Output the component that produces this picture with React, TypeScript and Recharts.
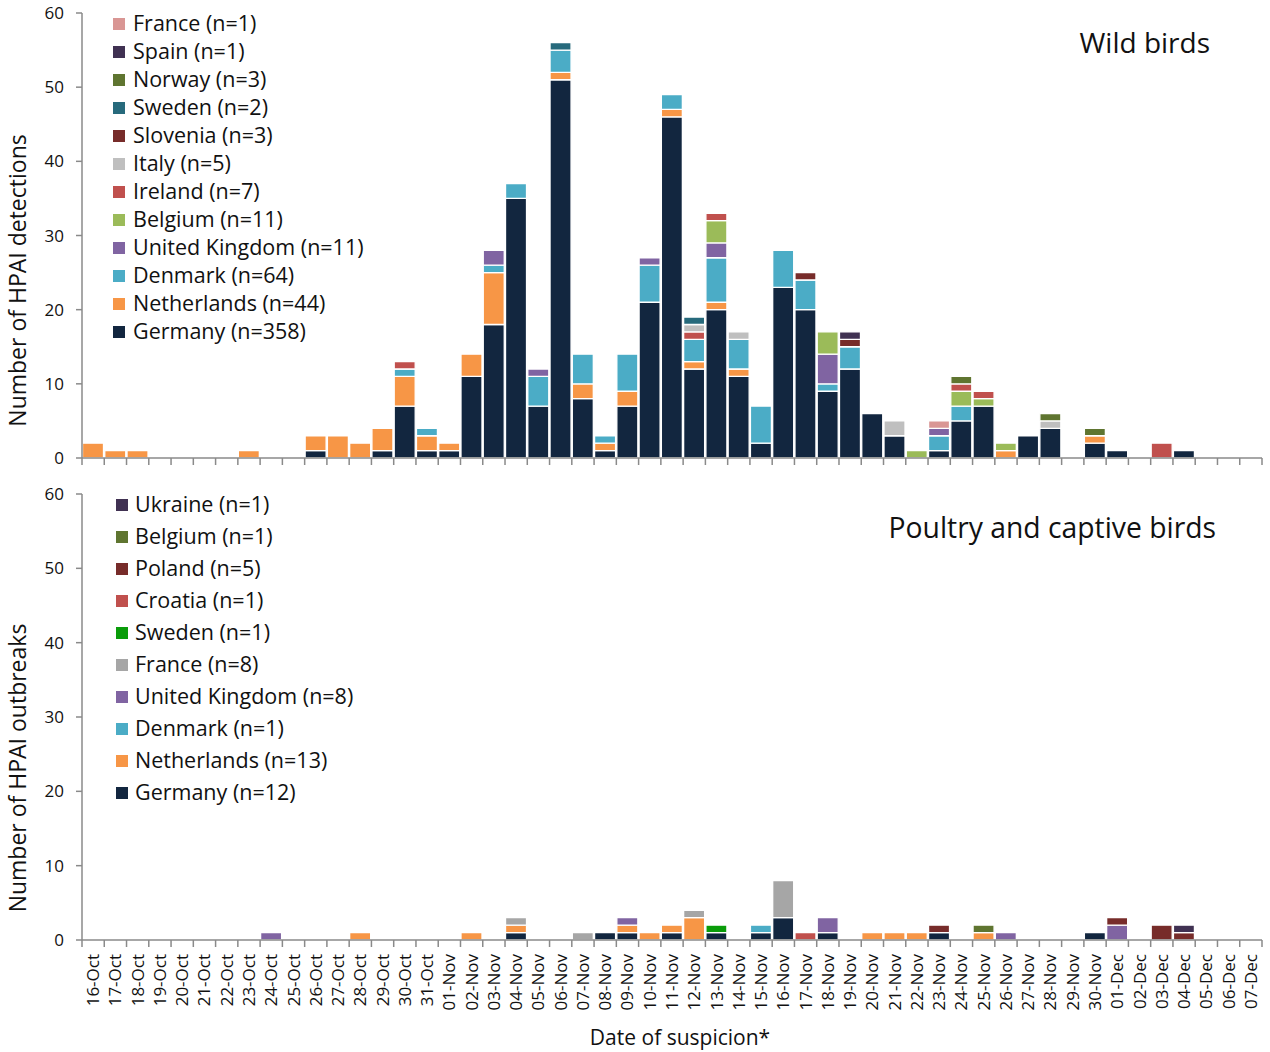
import React from 'react';
import { BarChart, Bar, XAxis, YAxis } from 'recharts';

// ---------- categories ----------
const DATES = [
  '16-Oct', '17-Oct', '18-Oct', '19-Oct', '20-Oct', '21-Oct', '22-Oct', '23-Oct', '24-Oct', '25-Oct',
  '26-Oct', '27-Oct', '28-Oct', '29-Oct', '30-Oct', '31-Oct', '01-Nov', '02-Nov', '03-Nov', '04-Nov',
  '05-Nov', '06-Nov', '07-Nov', '08-Nov', '09-Nov', '10-Nov', '11-Nov', '12-Nov', '13-Nov', '14-Nov',
  '15-Nov', '16-Nov', '17-Nov', '18-Nov', '19-Nov', '20-Nov', '21-Nov', '22-Nov', '23-Nov', '24-Nov',
  '25-Nov', '26-Nov', '27-Nov', '28-Nov', '29-Nov', '30-Nov', '01-Dec', '02-Dec', '03-Dec', '04-Dec',
  '05-Dec', '06-Dec', '07-Dec',
];
const Y_TICKS = [0, 10, 20, 30, 40, 50, 60];

// ---------- wild birds (detections per day), rows of 10 days ----------
const WILD_GERMANY = [
  0, 0, 0, 0, 0, 0, 0, 0, 0, 0,
  1, 0, 0, 1, 7, 1, 1, 11, 18, 35,
  7, 51, 8, 1, 7, 21, 46, 12, 20, 11,
  2, 23, 20, 9, 12, 6, 3, 0, 1, 5,
  7, 0, 3, 4, 0, 2, 1, 0, 0, 1,
  0, 0, 0,
];
const WILD_NETHERLANDS = [
  2, 1, 1, 0, 0, 0, 0, 1, 0, 0,
  2, 3, 2, 3, 4, 2, 1, 3, 7, 0,
  0, 1, 2, 1, 2, 0, 1, 1, 1, 1,
  0, 0, 0, 0, 0, 0, 0, 0, 0, 0,
  0, 1, 0, 0, 0, 1, 0, 0, 0, 0,
  0, 0, 0,
];
const WILD_DENMARK = [
  0, 0, 0, 0, 0, 0, 0, 0, 0, 0,
  0, 0, 0, 0, 1, 1, 0, 0, 1, 2,
  4, 3, 4, 1, 5, 5, 2, 3, 6, 4,
  5, 5, 4, 1, 3, 0, 0, 0, 2, 2,
  0, 0, 0, 0, 0, 0, 0, 0, 0, 0,
  0, 0, 0,
];
const WILD_UK = [
  0, 0, 0, 0, 0, 0, 0, 0, 0, 0,
  0, 0, 0, 0, 0, 0, 0, 0, 2, 0,
  1, 0, 0, 0, 0, 1, 0, 0, 2, 0,
  0, 0, 0, 4, 0, 0, 0, 0, 1, 0,
  0, 0, 0, 0, 0, 0, 0, 0, 0, 0,
  0, 0, 0,
];
const WILD_BELGIUM = [
  0, 0, 0, 0, 0, 0, 0, 0, 0, 0,
  0, 0, 0, 0, 0, 0, 0, 0, 0, 0,
  0, 0, 0, 0, 0, 0, 0, 0, 3, 0,
  0, 0, 0, 3, 0, 0, 0, 1, 0, 2,
  1, 1, 0, 0, 0, 0, 0, 0, 0, 0,
  0, 0, 0,
];
const WILD_IRELAND = [
  0, 0, 0, 0, 0, 0, 0, 0, 0, 0,
  0, 0, 0, 0, 1, 0, 0, 0, 0, 0,
  0, 0, 0, 0, 0, 0, 0, 1, 1, 0,
  0, 0, 0, 0, 0, 0, 0, 0, 0, 1,
  1, 0, 0, 0, 0, 0, 0, 0, 2, 0,
  0, 0, 0,
];
const WILD_ITALY = [
  0, 0, 0, 0, 0, 0, 0, 0, 0, 0,
  0, 0, 0, 0, 0, 0, 0, 0, 0, 0,
  0, 0, 0, 0, 0, 0, 0, 1, 0, 1,
  0, 0, 0, 0, 0, 0, 2, 0, 0, 0,
  0, 0, 0, 1, 0, 0, 0, 0, 0, 0,
  0, 0, 0,
];
const WILD_SLOVENIA = [
  0, 0, 0, 0, 0, 0, 0, 0, 0, 0,
  0, 0, 0, 0, 0, 0, 0, 0, 0, 0,
  0, 0, 0, 0, 0, 0, 0, 0, 0, 0,
  0, 0, 1, 0, 1, 0, 0, 0, 0, 0,
  0, 0, 0, 0, 0, 0, 0, 0, 0, 0,
  0, 0, 0,
];
const WILD_SWEDEN = [
  0, 0, 0, 0, 0, 0, 0, 0, 0, 0,
  0, 0, 0, 0, 0, 0, 0, 0, 0, 0,
  0, 1, 0, 0, 0, 0, 0, 1, 0, 0,
  0, 0, 0, 0, 0, 0, 0, 0, 0, 0,
  0, 0, 0, 0, 0, 0, 0, 0, 0, 0,
  0, 0, 0,
];
const WILD_NORWAY = [
  0, 0, 0, 0, 0, 0, 0, 0, 0, 0,
  0, 0, 0, 0, 0, 0, 0, 0, 0, 0,
  0, 0, 0, 0, 0, 0, 0, 0, 0, 0,
  0, 0, 0, 0, 0, 0, 0, 0, 0, 1,
  0, 0, 0, 1, 0, 1, 0, 0, 0, 0,
  0, 0, 0,
];
const WILD_SPAIN = [
  0, 0, 0, 0, 0, 0, 0, 0, 0, 0,
  0, 0, 0, 0, 0, 0, 0, 0, 0, 0,
  0, 0, 0, 0, 0, 0, 0, 0, 0, 0,
  0, 0, 0, 0, 1, 0, 0, 0, 0, 0,
  0, 0, 0, 0, 0, 0, 0, 0, 0, 0,
  0, 0, 0,
];
const WILD_FRANCE = [
  0, 0, 0, 0, 0, 0, 0, 0, 0, 0,
  0, 0, 0, 0, 0, 0, 0, 0, 0, 0,
  0, 0, 0, 0, 0, 0, 0, 0, 0, 0,
  0, 0, 0, 0, 0, 0, 0, 0, 1, 0,
  0, 0, 0, 0, 0, 0, 0, 0, 0, 0,
  0, 0, 0,
];

// ---------- poultry and captive birds (outbreaks per day) ----------
const POUL_GERMANY = [
  0, 0, 0, 0, 0, 0, 0, 0, 0, 0,
  0, 0, 0, 0, 0, 0, 0, 0, 0, 1,
  0, 0, 0, 1, 1, 0, 1, 0, 1, 0,
  1, 3, 0, 1, 0, 0, 0, 0, 1, 0,
  0, 0, 0, 0, 0, 1, 0, 0, 0, 0,
  0, 0, 0,
];
const POUL_NETHERLANDS = [
  0, 0, 0, 0, 0, 0, 0, 0, 0, 0,
  0, 0, 1, 0, 0, 0, 0, 1, 0, 1,
  0, 0, 0, 0, 1, 1, 1, 3, 0, 0,
  0, 0, 0, 0, 0, 1, 1, 1, 0, 0,
  1, 0, 0, 0, 0, 0, 0, 0, 0, 0,
  0, 0, 0,
];
const POUL_DENMARK = [
  0, 0, 0, 0, 0, 0, 0, 0, 0, 0,
  0, 0, 0, 0, 0, 0, 0, 0, 0, 0,
  0, 0, 0, 0, 0, 0, 0, 0, 0, 0,
  1, 0, 0, 0, 0, 0, 0, 0, 0, 0,
  0, 0, 0, 0, 0, 0, 0, 0, 0, 0,
  0, 0, 0,
];
const POUL_UK = [
  0, 0, 0, 0, 0, 0, 0, 0, 1, 0,
  0, 0, 0, 0, 0, 0, 0, 0, 0, 0,
  0, 0, 0, 0, 1, 0, 0, 0, 0, 0,
  0, 0, 0, 2, 0, 0, 0, 0, 0, 0,
  0, 1, 0, 0, 0, 0, 2, 0, 0, 0,
  0, 0, 0,
];
const POUL_FRANCE = [
  0, 0, 0, 0, 0, 0, 0, 0, 0, 0,
  0, 0, 0, 0, 0, 0, 0, 0, 0, 1,
  0, 0, 1, 0, 0, 0, 0, 1, 0, 0,
  0, 5, 0, 0, 0, 0, 0, 0, 0, 0,
  0, 0, 0, 0, 0, 0, 0, 0, 0, 0,
  0, 0, 0,
];
const POUL_SWEDEN = [
  0, 0, 0, 0, 0, 0, 0, 0, 0, 0,
  0, 0, 0, 0, 0, 0, 0, 0, 0, 0,
  0, 0, 0, 0, 0, 0, 0, 0, 1, 0,
  0, 0, 0, 0, 0, 0, 0, 0, 0, 0,
  0, 0, 0, 0, 0, 0, 0, 0, 0, 0,
  0, 0, 0,
];
const POUL_CROATIA = [
  0, 0, 0, 0, 0, 0, 0, 0, 0, 0,
  0, 0, 0, 0, 0, 0, 0, 0, 0, 0,
  0, 0, 0, 0, 0, 0, 0, 0, 0, 0,
  0, 0, 1, 0, 0, 0, 0, 0, 0, 0,
  0, 0, 0, 0, 0, 0, 0, 0, 0, 0,
  0, 0, 0,
];
const POUL_POLAND = [
  0, 0, 0, 0, 0, 0, 0, 0, 0, 0,
  0, 0, 0, 0, 0, 0, 0, 0, 0, 0,
  0, 0, 0, 0, 0, 0, 0, 0, 0, 0,
  0, 0, 0, 0, 0, 0, 0, 0, 1, 0,
  0, 0, 0, 0, 0, 0, 1, 0, 2, 1,
  0, 0, 0,
];
const POUL_BELGIUM = [
  0, 0, 0, 0, 0, 0, 0, 0, 0, 0,
  0, 0, 0, 0, 0, 0, 0, 0, 0, 0,
  0, 0, 0, 0, 0, 0, 0, 0, 0, 0,
  0, 0, 0, 0, 0, 0, 0, 0, 0, 0,
  1, 0, 0, 0, 0, 0, 0, 0, 0, 0,
  0, 0, 0,
];
const POUL_UKRAINE = [
  0, 0, 0, 0, 0, 0, 0, 0, 0, 0,
  0, 0, 0, 0, 0, 0, 0, 0, 0, 0,
  0, 0, 0, 0, 0, 0, 0, 0, 0, 0,
  0, 0, 0, 0, 0, 0, 0, 0, 0, 0,
  0, 0, 0, 0, 0, 0, 0, 0, 0, 1,
  0, 0, 0,
];

// ---------- series definitions (bottom of stack first) ----------
type Series = { key: string; label: string; values: number[] };

const WILD_SERIES: Series[] = [
  { key: 'germany', label: 'Germany (n=358)', values: WILD_GERMANY },
  { key: 'netherlands', label: 'Netherlands (n=44)', values: WILD_NETHERLANDS },
  { key: 'denmark', label: 'Denmark (n=64)', values: WILD_DENMARK },
  { key: 'uk', label: 'United Kingdom (n=11)', values: WILD_UK },
  { key: 'belgium', label: 'Belgium (n=11)', values: WILD_BELGIUM },
  { key: 'ireland', label: 'Ireland (n=7)', values: WILD_IRELAND },
  { key: 'italy', label: 'Italy (n=5)', values: WILD_ITALY },
  { key: 'slovenia', label: 'Slovenia (n=3)', values: WILD_SLOVENIA },
  { key: 'sweden', label: 'Sweden (n=2)', values: WILD_SWEDEN },
  { key: 'norway', label: 'Norway (n=3)', values: WILD_NORWAY },
  { key: 'spain', label: 'Spain (n=1)', values: WILD_SPAIN },
  { key: 'france', label: 'France (n=1)', values: WILD_FRANCE },
];

const POUL_SERIES: Series[] = [
  { key: 'germany', label: 'Germany (n=12)', values: POUL_GERMANY },
  { key: 'netherlands', label: 'Netherlands (n=13)', values: POUL_NETHERLANDS },
  { key: 'denmark', label: 'Denmark (n=1)', values: POUL_DENMARK },
  { key: 'uk', label: 'United Kingdom (n=8)', values: POUL_UK },
  { key: 'france', label: 'France (n=8)', values: POUL_FRANCE },
  { key: 'sweden', label: 'Sweden (n=1)', values: POUL_SWEDEN },
  { key: 'croatia', label: 'Croatia (n=1)', values: POUL_CROATIA },
  { key: 'poland', label: 'Poland (n=5)', values: POUL_POLAND },
  { key: 'belgium', label: 'Belgium (n=1)', values: POUL_BELGIUM },
  { key: 'ukraine', label: 'Ukraine (n=1)', values: POUL_UKRAINE },
];

// ---------- styles ----------
const WILD_COLORS: Record<string, string> = {
  germany: '#12263f',
  netherlands: '#f79646',
  denmark: '#4bacc6',
  uk: '#8064a2',
  belgium: '#9bbb59',
  ireland: '#c0504d',
  italy: '#bfbfbf',
  slovenia: '#772c2a',
  sweden: '#276a7c',
  norway: '#5f7530',
  spain: '#403152',
  france: '#d99694',
};
const POUL_COLORS: Record<string, string> = {
  germany: '#12263f',
  netherlands: '#f79646',
  denmark: '#4bacc6',
  uk: '#8064a2',
  france: '#a6a6a6',
  sweden: '#0a9c0a',
  croatia: '#c0504d',
  poland: '#772c2a',
  belgium: '#5f7530',
  ukraine: '#403152',
};

const FONT = '"Open Sans", "DejaVu Sans", sans-serif';
const AXIS_COLOR = '#8a8a8a';
const TEXT_COLOR = '#111111';
const CHART_W = 1270;
const MARGIN_LEFT = 22;
const Y_AXIS_W = 60;
const MARGIN_RIGHT = 8;
const HALF_BAND = (CHART_W - MARGIN_RIGHT - MARGIN_LEFT - Y_AXIS_W) / DATES.length / 2;

function buildRows(series: Series[]) {
  return DATES.map((date, i) => {
    const row: Record<string, string | number> = { date };
    series.forEach((s) => {
      row[s.key] = s.values[i];
    });
    return row;
  });
}

const WILD_DATA = buildRows(WILD_SERIES);
const POUL_DATA = buildRows(POUL_SERIES);

function makeDateTick(showLabel: boolean) {
  return (props: any) => {
    const { x, y, payload, index } = props;
    const isLast = index === DATES.length - 1;
    return (
      <g>
        <line x1={x - HALF_BAND} x2={x - HALF_BAND} y1={y} y2={y + 7} stroke={AXIS_COLOR} strokeWidth={1.5} />
        {isLast && (
          <line x1={x + HALF_BAND} x2={x + HALF_BAND} y1={y} y2={y + 7} stroke={AXIS_COLOR} strokeWidth={1.5} />
        )}
        {showLabel && (
          <text
            transform={`translate(${x + 6},${y + 14}) rotate(-90)`}
            textAnchor="end"
            fontSize={17}
            fontFamily={FONT}
            fill={TEXT_COLOR}
          >
            {payload.value}
          </text>
        )}
      </g>
    );
  };
}

function makeYTitle(text: string, shift: number) {
  return (props: any) => {
    const vb = props.viewBox || { y: 0, height: 0 };
    const cy = vb.y + vb.height / 2 + shift;
    const cx = 26;
    return (
      <text
        x={cx}
        y={cy}
        transform={`rotate(-90, ${cx}, ${cy})`}
        textAnchor="middle"
        fontSize={23}
        fontFamily={FONT}
        fill={TEXT_COLOR}
      >
        {text}
      </text>
    );
  };
}

function makeXTitle(text: string) {
  return (props: any) => {
    const vb = props.viewBox || { x: 0, y: 0, width: 0, height: 0 };
    return (
      <text
        x={vb.x + vb.width / 2 + 8}
        y={vb.y + vb.height - 7}
        textAnchor="middle"
        fontSize={21}
        fontFamily={FONT}
        fill={TEXT_COLOR}
      >
        {text}
      </text>
    );
  };
}

function LegendBox(props: {
  series: Series[];
  colors: Record<string, string>;
  left: number;
  top: number;
  rowH: number;
  textLeft: number;
}) {
  const { series, colors, left, top, rowH, textLeft } = props;
  const items = [...series].reverse();
  return (
    <div style={{ position: 'absolute', left, top, fontFamily: FONT, fontSize: 21.5, color: TEXT_COLOR }}>
      {items.map((s) => (
        <div key={s.key} style={{ position: 'relative', height: rowH, lineHeight: `${rowH}px`, whiteSpace: 'nowrap' }}>
          <div
            style={{
              position: 'absolute',
              left: 0,
              top: rowH / 2 - 5,
              width: 12,
              height: 12,
              background: colors[s.key],
            }}
          />
          <span style={{ position: 'absolute', left: textLeft }}>{s.label}</span>
        </div>
      ))}
    </div>
  );
}

function Panel(props: {
  data: Record<string, string | number>[];
  series: Series[];
  colors: Record<string, string>;
  height: number;
  marginTop: number;
  xHeight: number;
  showLabels: boolean;
  yTitle: string;
  yShift: number;
  xTitle?: string;
}) {
  const { data, series, colors, height, marginTop, xHeight, showLabels, yTitle, yShift, xTitle } = props;
  return (
    <BarChart
      width={CHART_W}
      height={height}
      data={data}
      margin={{ top: marginTop, right: MARGIN_RIGHT, bottom: 0, left: MARGIN_LEFT }}
      barCategoryGap={0.5}
    >
      <XAxis
        dataKey="date"
        interval={0}
        height={xHeight}
        tickLine={false}
        tickSize={0}
        tickMargin={0}
        axisLine={{ stroke: AXIS_COLOR, strokeWidth: 1.5 }}
        tick={makeDateTick(showLabels)}
        label={xTitle ? makeXTitle(xTitle) : undefined}
      />
      <YAxis
        width={Y_AXIS_W}
        domain={[0, 60]}
        ticks={Y_TICKS}
        interval={0}
        allowDecimals={false}
        axisLine={{ stroke: AXIS_COLOR, strokeWidth: 1.5 }}
        tickLine={{ stroke: AXIS_COLOR, strokeWidth: 1.5 }}
        tickSize={6}
        tickMargin={12}
        tick={{ fontSize: 17, fontFamily: FONT, fill: TEXT_COLOR }}
        label={makeYTitle(yTitle, yShift)}
      />
      {series.map((s) => (
        <Bar
          key={s.key}
          dataKey={s.key}
          name={s.label}
          stackId="stack"
          fill={colors[s.key]}
          stroke="#ffffff"
          strokeWidth={1.3}
          isAnimationActive={false}
        />
      ))}
    </BarChart>
  );
}

export default function App() {
  return (
    <div
      style={{
        position: 'absolute',
        left: 0,
        top: 0,
        width: 1270,
        height: 1052,
        background: '#ffffff',
        overflow: 'hidden',
        fontFamily: FONT,
      }}
    >
      <div style={{ position: 'absolute', left: 0, top: 0 }}>
        <Panel
          data={WILD_DATA}
          series={WILD_SERIES}
          colors={WILD_COLORS}
          height={470}
          marginTop={13}
          xHeight={12}
          showLabels={false}
          yTitle="Number of HPAI detections"
          yShift={45}
        />
      </div>
      <div style={{ position: 'absolute', left: 0, top: 480 }}>
        <Panel
          data={POUL_DATA}
          series={POUL_SERIES}
          colors={POUL_COLORS}
          height={572}
          marginTop={14}
          xHeight={112}
          showLabels={true}
          yTitle="Number of HPAI outbreaks"
          yShift={51}
          xTitle="Date of suspicion*"
        />
      </div>

      <LegendBox series={WILD_SERIES} colors={WILD_COLORS} left={113} top={9} rowH={28} textLeft={20} />
      <LegendBox series={POUL_SERIES} colors={POUL_COLORS} left={116} top={488} rowH={32} textLeft={19} />

      <div
        style={{
          position: 'absolute',
          right: 60,
          top: 28,
          fontSize: 28,
          lineHeight: '28px',
          color: TEXT_COLOR,
          whiteSpace: 'nowrap',
        }}
      >
        Wild birds
      </div>
      <div
        style={{
          position: 'absolute',
          right: 54,
          top: 513,
          fontSize: 28.3,
          lineHeight: '28px',
          color: TEXT_COLOR,
          whiteSpace: 'nowrap',
        }}
      >
        Poultry and captive birds
      </div>
    </div>
  );
}
